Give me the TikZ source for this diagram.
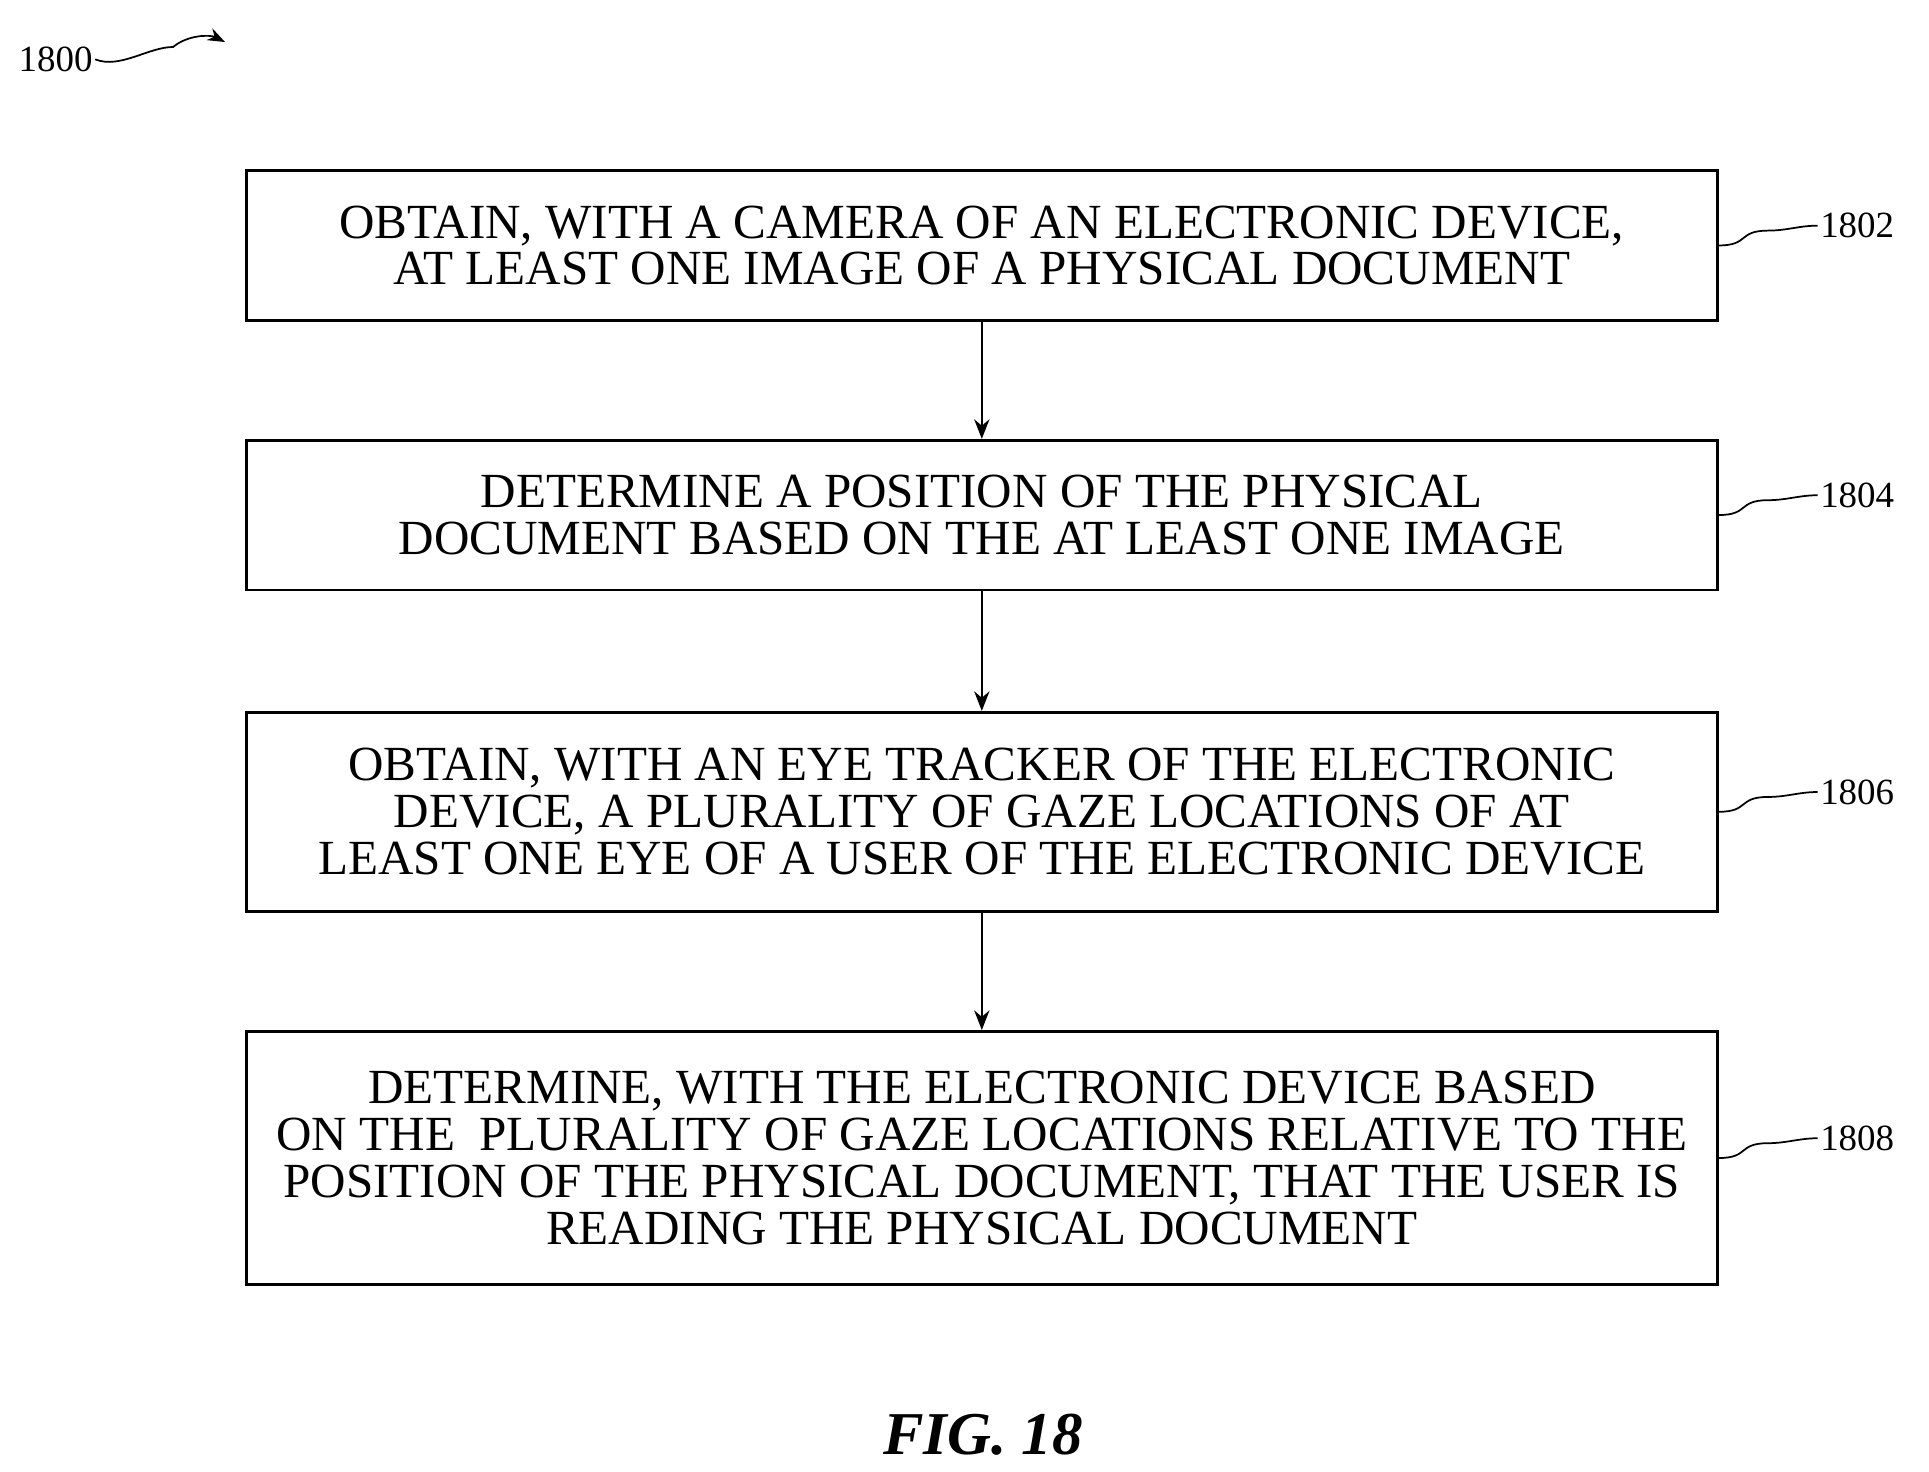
\documentclass[tikz,border=0pt]{standalone}
\usepackage{fontspec}
\setmainfont{Liberation Serif}
\usetikzlibrary{arrows.meta}
\usetikzlibrary{calc}
\usetikzlibrary{positioning}

\tikzset{
	stepbox/.style={draw, line width=1.2pt, minimum width=23.8cm, align=center,
		font=\fontsize{22.6}{21.6}\selectfont, inner sep=0pt},
	flow/.style={-{Stealth[length=9pt,width=7pt]}, line width=1.2pt},
	tag/.style={font=\fontsize{17}{18}\selectfont, anchor=west, inner sep=1pt},
	lead/.style={line width=0.8pt}
}

\begin{document}
\begin{tikzpicture}[x=0.02cm, y=-0.02cm]
	\useasboundingbox (0,0) rectangle (1560,1190);

	% Steps
	\node[stepbox, minimum height=2.42cm] (s1802) at (794,198.5)
		{OBTAIN, WITH A CAMERA OF AN ELECTRONIC DEVICE,\\AT LEAST ONE IMAGE OF A PHYSICAL DOCUMENT};
	\node[stepbox, minimum height=2.42cm] (s1804) at (794,416.5)
		{DETERMINE A POSITION OF THE PHYSICAL\\DOCUMENT BASED ON THE AT LEAST ONE IMAGE};
	\node[stepbox, minimum height=3.22cm] (s1806) at (794,656.5)
		{OBTAIN, WITH AN EYE TRACKER OF THE ELECTRONIC\\DEVICE, A PLURALITY OF GAZE LOCATIONS OF AT\\LEAST ONE EYE OF A USER OF THE ELECTRONIC DEVICE};
	\node[stepbox, minimum height=4.1cm] (s1808) at (794,936.5)
		{DETERMINE, WITH THE ELECTRONIC DEVICE BASED\\ON THE \ PLURALITY OF GAZE LOCATIONS RELATIVE TO THE\\POSITION OF THE PHYSICAL DOCUMENT, THAT THE USER IS\\READING THE PHYSICAL DOCUMENT};

	% Connectors
	\draw[flow] (s1802) -- (s1804);
	\draw[flow] (s1804) -- (s1806);
	\draw[flow] (s1806) -- (s1808);

	% Reference numerals
	\foreach \s in {1802,1804,1806,1808}{
		\node[tag] (t\s) at ($(s\s.east)+(80,-16)$) {\s};
		\draw[lead] (s\s.east) .. controls +(25,0) and +(-25,0) .. ($(s\s.east)+(40,-12)$)
			.. controls +(15,0) and +(-15,0) .. (t\s.west);
	}

	\node[font=\fontsize{17}{18}\selectfont, inner sep=1pt] (n1800) at (45,48) {1800};
	\coordinate (p1800) at (182,34);
	\draw[lead, -{Stealth[length=8pt,width=6pt]}] (n1800.east) .. controls +(20,8) and +(-20,0) .. (140,38)
		.. controls +(12,-10) and +(-12,-6) .. (p1800);

	\node[font=\bfseries\itshape\fontsize{28}{30}\selectfont] (fig) at (795,1160) {FIG. 18};
\end{tikzpicture}
\end{document}
